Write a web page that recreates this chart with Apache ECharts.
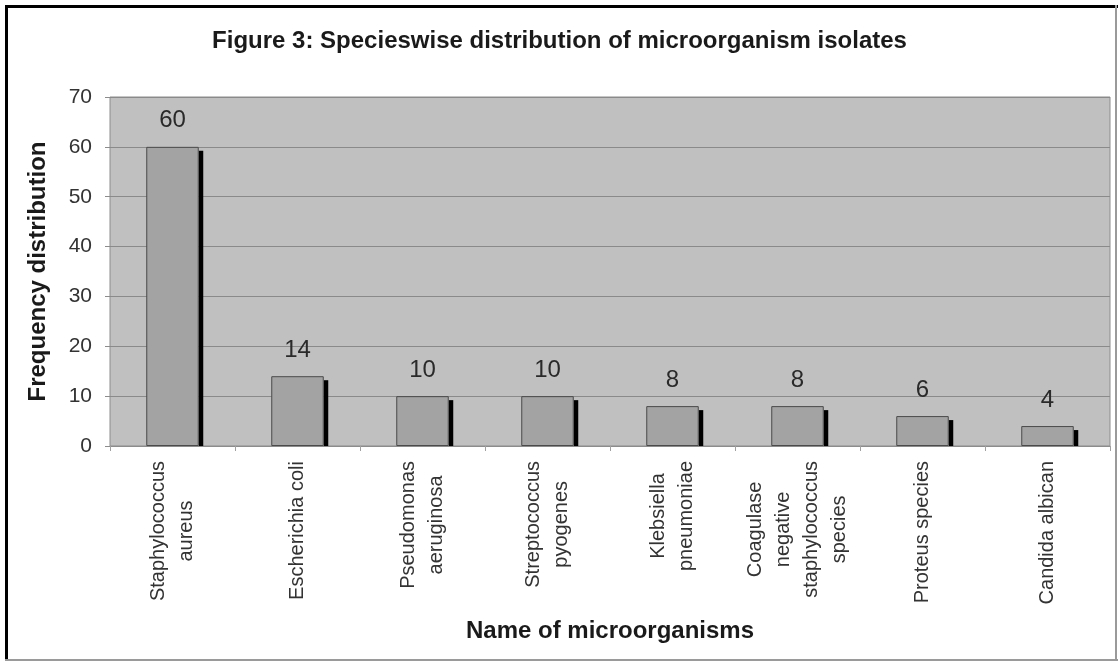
<!DOCTYPE html>
<html>
<head>
<meta charset="utf-8">
<script src="https://cdn.jsdelivr.net/npm/echarts@6/dist/echarts.min.js"></script>
<style>
html,body{margin:0;padding:0;background:#fff;}
#chart{width:1119px;height:663px;}
</style>
</head>
<body>
<div id="chart"></div>
<script>
var titleText = 'Figure 3: Specieswise distribution of microorganism isolates';
var categories = [
  'Staphylococcus\naureus',
  'Escherichia coli',
  'Pseudomonas\naeruginosa',
  'Streptococcus\npyogenes',
  'Klebsiella\npneumoniae',
  'Coagulase\nnegative\nstaphylococcus\nspecies',
  'Proteus species',
  'Candida albican'
];
var values = [60, 14, 10, 10, 8, 8, 6, 4];
var yTicks = [0, 10, 20, 30, 40, 50, 60, 70];
var xAxisTitle = 'Name of microorganisms';
var yAxisTitle = 'Frequency distribution';

var FONT = '"Liberation Sans", Arial, sans-serif';
var BAR_RATIO = 0.42;

var chart = echarts.init(document.getElementById('chart'), null, {renderer: 'canvas'});
chart.setOption({
  animation: false,
  backgroundColor: '#ffffff',
  textStyle: {fontFamily: FONT},
  title: {
    text: titleText,
    left: 'center',
    top: 24,
    textStyle: {fontFamily: FONT, fontSize: 24, fontWeight: 'bold', color: '#1a1a1a'}
  },
  graphic: [
    {type: 'line', shape: {x1: 6.5, y1: 5, x2: 6.5, y2: 661}, style: {stroke: '#000', lineWidth: 3}},
    {type: 'line', shape: {x1: 5, y1: 6.5, x2: 1118, y2: 6.5}, style: {stroke: '#000', lineWidth: 3}},
    {type: 'line', shape: {x1: 1116, y1: 5, x2: 1116, y2: 661}, style: {stroke: '#9a9a9a', lineWidth: 2}},
    {type: 'line', shape: {x1: 5, y1: 660, x2: 1118, y2: 660}, style: {stroke: '#9a9a9a', lineWidth: 2}}
  ],
  grid: {
    left: 110, right: 9, top: 97, bottom: 217,
    show: true, backgroundColor: '#c0c0c0', borderColor: '#8c8c8c', borderWidth: 1
  },
  xAxis: {
    type: 'category',
    data: categories,
    name: xAxisTitle,
    nameLocation: 'middle',
    nameGap: 173,
    nameTextStyle: {fontFamily: FONT, fontSize: 24, fontWeight: 'bold', color: '#1a1a1a'},
    axisLine: {show: true, lineStyle: {color: '#8c8c8c', width: 1}},
    axisTick: {show: true, length: 5, lineStyle: {color: '#a0a0a0'}},
    axisLabel: {
      rotate: 90,
      interval: 0,
      margin: 15,
      color: '#333',
      fontSize: 20,
      lineHeight: 28,
      fontFamily: FONT,
      formatter: function (v) {
        return v.split('\n').map(function (l) { return '{c|' + l + '}'; }).join('\n');
      },
      rich: {c: {align: 'center', fontSize: 20, lineHeight: 28, color: '#333', fontFamily: FONT}}
    },
    splitLine: {show: false}
  },
  yAxis: {
    type: 'value',
    min: 0, max: 70, interval: 10,
    name: yAxisTitle,
    nameLocation: 'middle',
    nameGap: 60,
    nameTextStyle: {fontFamily: FONT, fontSize: 24, fontWeight: 'bold', color: '#1a1a1a'},
    axisLine: {show: false},
    axisTick: {show: true, length: 5, lineStyle: {color: '#8c8c8c'}},
    axisLabel: {
      margin: 18, color: '#333', fontSize: 21, fontFamily: FONT,
      formatter: function (v) { return yTicks.indexOf(v) >= 0 ? String(v) : ''; }
    },
    splitLine: {show: true, lineStyle: {color: '#8a8a8a', width: 1}}
  },
  series: [
    {
      type: 'custom',
      z: 1,
      silent: true,
      data: values.map(function (v, i) { return [i, v]; }),
      encode: {x: 0, y: 1},
      renderItem: function (params, api) {
        var i = api.value(0), v = api.value(1);
        var top = api.coord([i, v]);
        var base = api.coord([i, 0]);
        var bw = api.size([1, 0])[0] * BAR_RATIO;
        var x = top[0] + bw / 2;
        return {
          type: 'rect',
          shape: {x: x, y: top[1] + 4, width: 4.5, height: base[1] - top[1] - 4},
          style: {fill: '#000'}
        };
      }
    },
    {
      type: 'bar',
      z: 2,
      data: values,
      barWidth: (BAR_RATIO * 100) + '%',
      itemStyle: {color: '#a3a3a3', borderColor: '#4a4a4a', borderWidth: 1},
      label: {
        show: true, position: 'top', distance: 14,
        fontSize: 24, color: '#2a2a2a', fontFamily: FONT
      }
    }
  ]
});
</script>
</body>
</html>
